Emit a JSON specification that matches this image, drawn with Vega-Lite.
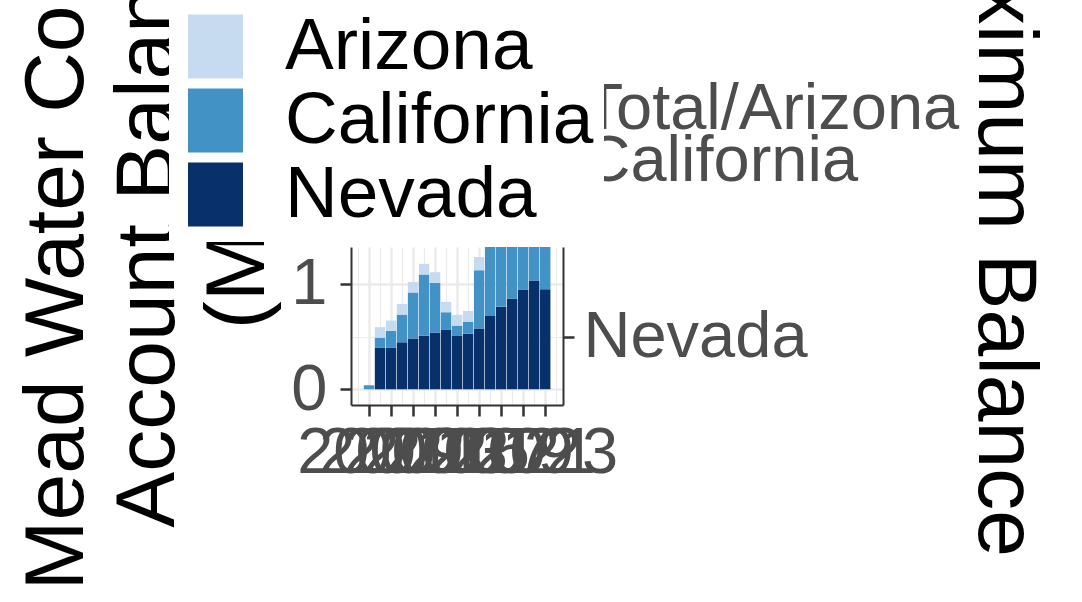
{
  "$schema": "https://vega.github.io/schema/vega-lite/v6.json",
  "width": 212,
  "height": 158,
  "autosize": {"type": "none"},
  "padding": {"left": 351, "top": 247, "right": 519, "bottom": 197},
  "background": "white",
  "config": {"view": {"stroke": null}, "font": "Liberation Sans"},
  "data": {
    "values": [
      {"year": 2007, "state": "Nevada", "balance": 0},
      {"year": 2007, "state": "California", "balance": 0.038},
      {"year": 2007, "state": "Arizona", "balance": 0},
      {"year": 2008, "state": "Nevada", "balance": 0.396},
      {"year": 2008, "state": "California", "balance": 0.094},
      {"year": 2008, "state": "Arizona", "balance": 0.099},
      {"year": 2009, "state": "Nevada", "balance": 0.396},
      {"year": 2009, "state": "California", "balance": 0.158},
      {"year": 2009, "state": "Arizona", "balance": 0.098},
      {"year": 2010, "state": "Nevada", "balance": 0.446},
      {"year": 2010, "state": "California", "balance": 0.263},
      {"year": 2010, "state": "Arizona", "balance": 0.101},
      {"year": 2011, "state": "Nevada", "balance": 0.481},
      {"year": 2011, "state": "California", "balance": 0.437},
      {"year": 2011, "state": "Arizona", "balance": 0.101},
      {"year": 2012, "state": "Nevada", "balance": 0.509},
      {"year": 2012, "state": "California", "balance": 0.58},
      {"year": 2012, "state": "Arizona", "balance": 0.101},
      {"year": 2013, "state": "Nevada", "balance": 0.538},
      {"year": 2013, "state": "California", "balance": 0.471},
      {"year": 2013, "state": "Arizona", "balance": 0.102},
      {"year": 2014, "state": "Nevada", "balance": 0.563},
      {"year": 2014, "state": "California", "balance": 0.168},
      {"year": 2014, "state": "Arizona", "balance": 0.098},
      {"year": 2015, "state": "Nevada", "balance": 0.506},
      {"year": 2015, "state": "California", "balance": 0.098},
      {"year": 2015, "state": "Arizona", "balance": 0.102},
      {"year": 2016, "state": "Nevada", "balance": 0.528},
      {"year": 2016, "state": "California", "balance": 0.114},
      {"year": 2016, "state": "Arizona", "balance": 0.102},
      {"year": 2017, "state": "Nevada", "balance": 0.576},
      {"year": 2017, "state": "California", "balance": 0.554},
      {"year": 2017, "state": "Arizona", "balance": 0.126},
      {"year": 2018, "state": "Nevada", "balance": 0.696},
      {"year": 2018, "state": "California", "balance": 0.95},
      {"year": 2018, "state": "Arizona", "balance": 0.3},
      {"year": 2019, "state": "Nevada", "balance": 0.782},
      {"year": 2019, "state": "California", "balance": 1.0},
      {"year": 2019, "state": "Arizona", "balance": 0.4},
      {"year": 2020, "state": "Nevada", "balance": 0.861},
      {"year": 2020, "state": "California", "balance": 1.1},
      {"year": 2020, "state": "Arizona", "balance": 0.5},
      {"year": 2021, "state": "Nevada", "balance": 0.946},
      {"year": 2021, "state": "California", "balance": 1.15},
      {"year": 2021, "state": "Arizona", "balance": 0.5},
      {"year": 2022, "state": "Nevada", "balance": 1.032},
      {"year": 2022, "state": "California", "balance": 1.1},
      {"year": 2022, "state": "Arizona", "balance": 0.5},
      {"year": 2023, "state": "Nevada", "balance": 0.949},
      {"year": 2023, "state": "California", "balance": 1.2},
      {"year": 2023, "state": "Arizona", "balance": 0.5}
    ]
  },
  "layer": [
    {
      "mark": {"type": "bar", "size": 10.4, "clip": true},
      "encoding": {
        "x": {
          "field": "year", "type": "quantitative",
          "scale": {"domain": [2005.82, 2024.16], "nice": false, "zero": false},
          "axis": {
            "values": [2007, 2009, 2011, 2013, 2015, 2017, 2019, 2021, 2023],
            "format": "d", "title": null,
            "labelFont": "Liberation Sans", "labelFontSize": 65, "labelColor": "#4d4d4d",
            "labelOverlap": false, "labelFlush": false, "labelBound": false, "labelPadding": 5,
            "tickSize": 11, "tickWidth": 2.5, "tickColor": "#333333",
            "domainColor": "#333333", "domainWidth": 2,
            "grid": true, "gridColor": "#ebebeb", "gridWidth": 2.5
          }
        },
        "y": {
          "field": "balance", "type": "quantitative", "stack": "zero",
          "scale": {"domain": [-0.149, 1.35], "nice": false, "zero": false},
          "axis": {
            "orient": "left",
            "values": [0, 1], "format": "d",
            "title": ["Account Balance", "(MAF)"],
            "titleFont": "Liberation Sans", "titleFontSize": 84, "titleFontWeight": "normal",
            "titleColor": "black", "titleLineHeight": 90, "titleLimit": 3000,
            "titleX": -178, "titleY": -35, "titleAlign": "center", "titleBaseline": "alphabetic",
            "labelFont": "Liberation Sans", "labelFontSize": 65, "labelColor": "#4d4d4d",
            "labelPadding": 13, "labelOverlap": false, "labelFlush": false, "labelBound": false,
            "tickSize": 11, "tickWidth": 2.5, "tickColor": "#333333",
            "domainColor": "#333333", "domainWidth": 2,
            "grid": true, "gridColor": "#ebebeb", "gridWidth": 2.5
          }
        },
        "color": {
          "field": "state", "type": "nominal",
          "scale": {"domain": ["Arizona", "California", "Nevada"], "range": ["#c6dbef", "#4292c6", "#08306b"]},
          "legend": {
            "orient": "none", "legendX": -182, "legendY": -247, "title": null,
            "fillColor": "white", "padding": 10, "zindex": 1,
            "symbolType": "M-0.86,-1H0.86V1H-0.86Z", "symbolSize": 4096,
            "symbolStrokeWidth": 0, "symbolOpacity": 1,
            "labelExpr": "datum.label + '\u00a0'",
            "labelFont": "Liberation Sans", "labelFontSize": 73, "labelColor": "black",
            "labelOffset": 33, "labelLimit": 1000, "rowPadding": 0
          }
        },
        "order": {"field": "state", "sort": "descending"}
      }
    },
    {
      "mark": {"type": "bar", "size": 1, "opacity": 0, "clip": true},
      "encoding": {
        "x": {
          "field": "year", "type": "quantitative",
          "scale": {"domain": [2005.82, 2024.16], "nice": false, "zero": false},
          "axis": {
            "values": [2006, 2008, 2010, 2012, 2014, 2016, 2018, 2020, 2022, 2024],
            "title": null, "labels": false, "ticks": false, "domain": false,
            "grid": true, "gridColor": "#ebebeb", "gridWidth": 1.2
          }
        },
        "y": {
          "field": "balance", "type": "quantitative",
          "scale": {"domain": [-0.149, 1.35], "nice": false, "zero": false},
          "axis": {
            "orient": "right",
            "values": [0.5, 1.3],
            "labelExpr": "datum.value < 1 ? 'Nevada' : ['Total/Arizona', 'California']",
            "labelFont": "Liberation Sans", "labelFontSize": 65, "labelColor": "#4d4d4d",
            "labelLineHeight": 52, "labelLimit": 1000,
            "labelOffset": {"condition": {"test": "datum.value > 1", "value": -144}, "value": 0},
            "labelPadding": 9, "labelOverlap": false, "labelFlush": false, "labelBound": false,
            "tickSize": 11, "tickWidth": 2.5, "tickColor": "#333333",
            "tickOpacity": {"condition": {"test": "datum.value > 1", "value": 0}, "value": 1},
            "domainColor": "#333333", "domainWidth": 2,
            "grid": true, "gridColor": "#ebebeb", "gridWidth": 1.2,
            "gridOpacity": {"condition": {"test": "datum.value > 1", "value": 0}, "value": 1},
            "title": "Maximum Balance",
            "titleFont": "Liberation Sans", "titleFontSize": 84, "titleFontWeight": "normal",
            "titleColor": "black", "titleLimit": 3000,
            "titleX": 415, "titleY": -36, "titleAlign": "center", "titleBaseline": "alphabetic"
          }
        }
      }
    },
    {
      "mark": {"type": "bar", "size": 1, "opacity": 0, "clip": true},
      "encoding": {
        "x": {
          "field": "year", "type": "quantitative",
          "scale": {"domain": [2005.82, 2024.16], "nice": false, "zero": false},
          "axis": null
        },
        "y": {
          "field": "balance", "type": "quantitative",
          "scale": {"domain": [-0.149, 1.35], "nice": false, "zero": false},
          "axis": {
            "orient": "left",
            "labels": false, "ticks": false, "domain": false, "grid": false,
            "title": "Mead Water Conservation",
            "titleFont": "Liberation Sans", "titleFontSize": 84, "titleFontWeight": "normal",
            "titleColor": "black", "titleLimit": 3000,
            "titleX": -269, "titleY": 343, "titleAlign": "left", "titleBaseline": "alphabetic"
          }
        }
      }
    }
  ],
  "resolve": {"axis": {"x": "independent", "y": "independent"}}
}
